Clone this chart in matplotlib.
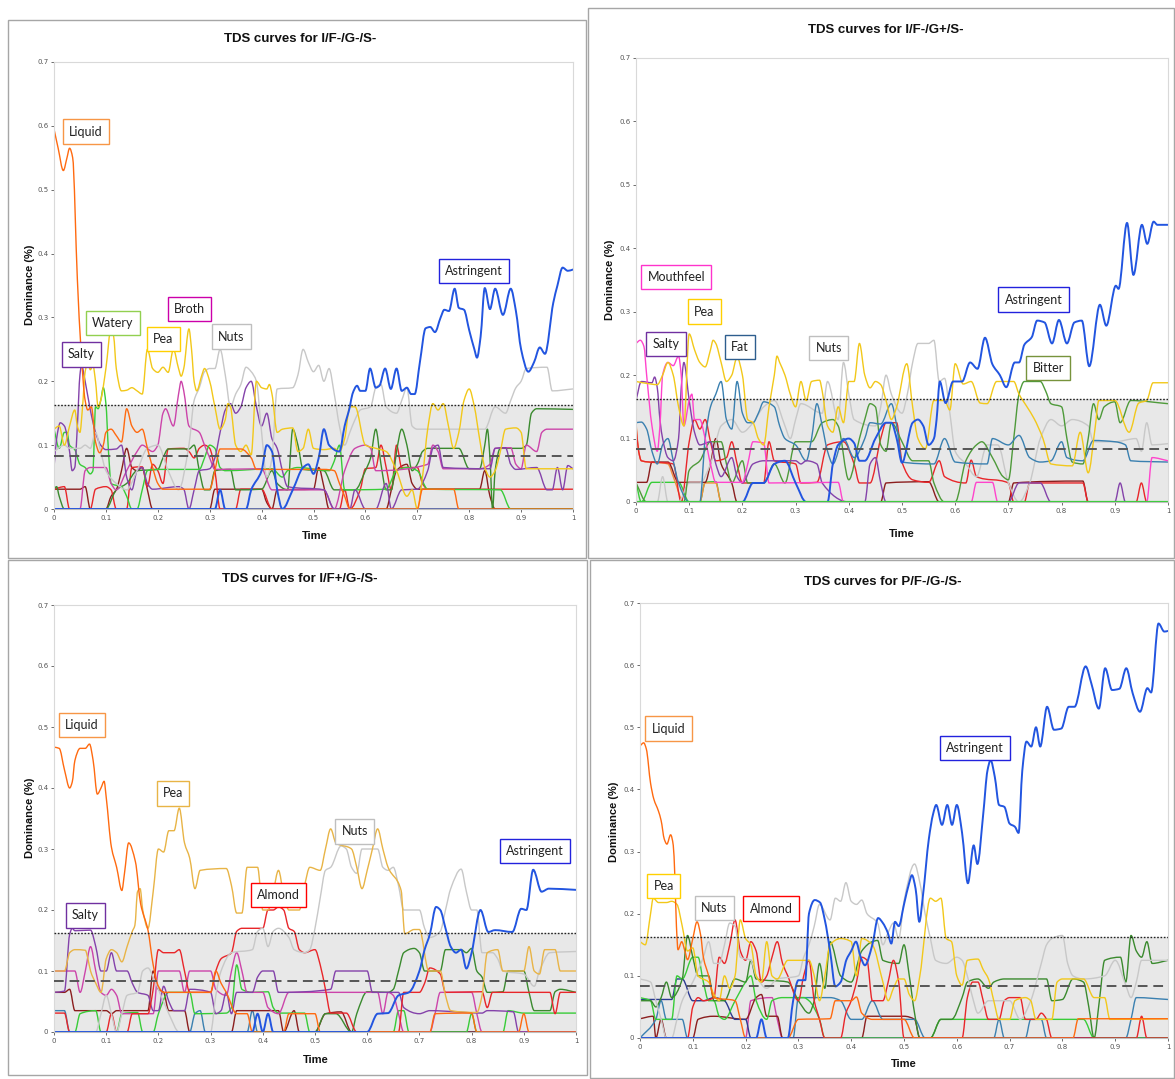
import matplotlib
matplotlib.use("Agg")
import numpy as np
import matplotlib.pyplot as plt
from matplotlib.patches import Rectangle, PathPatch
from matplotlib.path import Path

W, H = 1175, 1079

# ---------------- colours ----------------
C_LIQUID = "#FF6A10"
C_PEA = "#F2C81A"
C_PEA_BL = "#E8B446"
C_NUTS = "#C8C8C8"
C_SALTY = "#8442AA"
C_BROTH = "#CC44AA"
C_GREEN = "#38CC38"
C_DKGREEN = "#3A8A2E"
C_RED = "#E8262A"
C_DKRED = "#8B1E1E"
C_ASTR = "#2255E0"
C_TEAL = "#3A80B0"
C_PINK = "#FF44CC"
C_NAVY = "#2B3990"
C_BITTER = "#4E9A3A"

# ---------------- data: I/F-/G-/S- ----------------
tl_liquid = [(0, .595), (.008, .565), (.018, .53), (.025, .55), (.03, .565), (.036, .55), (.045, .36), (.052, .25),
             (.06, .17), (.065, .155), (.072, .16), (.08, .105), (.088, .088), (.095, .1), (.1, .12), (.11, .125),
             (.12, .115), (.13, .105), (.14, .157), (.15, .13), (.16, .12), (.17, .125), (.18, .095), (.19, .065),
             (.2, .04), (.21, .031), (.3, .031), (.31, .06), (.32, .094), (.36, .094), (.38, .08), (.39, .062),
             (.52, .062), (.54, .06), (.55, .04), (.56, .02), (.57, 0), (.7, 0), (.71, .031), (.77, .031), (.78, 0), (1, 0)]
tl_pea = [(0, .125), (.01, .13), (.02, .1), (.03, .13), (.04, .155), (.045, .13), (.05, .12), (.055, .16), (.06, .215),
          (.065, .228), (.07, .218), (.075, .225), (.08, .2), (.085, .16), (.09, .17), (.1, .22), (.11, .283),
          (.115, .27), (.12, .22), (.13, .185), (.14, .186), (.15, .19), (.16, .185), (.17, .18), (.18, .25),
          (.19, .22), (.2, .214), (.21, .222), (.22, .214), (.23, .25), (.24, .22), (.245, .208), (.25, .22),
          (.26, .282), (.265, .25), (.27, .2), (.275, .185), (.285, .21), (.29, .22), (.3, .2), (.31, .16),
          (.32, .125), (.33, .14), (.335, .165), (.34, .16), (.35, .1), (.36, .09), (.37, .1), (.38, .085),
          (.39, .2), (.4, .19), (.41, .188), (.415, .195), (.42, .18), (.43, .12), (.44, .125), (.46, .127),
          (.47, .09), (.48, .095), (.49, .125), (.5, .095), (.52, .093), (.54, .095), (.55, .09), (.56, .11),
          (.57, .16), (.58, .16), (.6, .1), (.62, .095), (.64, .09), (.66, .06), (.68, .02), (.69, .03), (.7, 0),
          (.71, .05), (.72, .125), (.73, .165), (.74, .155), (.75, .165), (.76, .13), (.77, .095), (.78, .12),
          (.79, .17), (.8, .188), (.81, .16), (.82, .11), (.83, .065), (.84, .05), (.85, .06), (.86, .09),
          (.87, .125), (.89, .127), (.9, .12), (.91, .063), (1, .063)]
tl_nuts = [(0, .09), (.02, .1), (.03, .095), (.05, .095), (.06, .1), (.07, .095), (.08, .12), (.09, .09), (.1, .06),
           (.12, .04), (.14, .03), (.16, .06), (.18, .095), (.2, .1), (.22, .06), (.24, .03), (.26, .1), (.27, .17),
           (.28, .19), (.29, .215), (.3, .22), (.31, .22), (.32, .25), (.33, .21), (.34, .16), (.35, .18),
           (.36, .195), (.37, .222), (.38, .215), (.39, .2), (.4, .12), (.41, .05), (.42, .08), (.43, .188),
           (.46, .19), (.47, .21), (.48, .25), (.49, .23), (.5, .215), (.51, .225), (.52, .2), (.53, .22),
           (.54, .18), (.55, .13), (.56, .1), (.57, .12), (.58, .14), (.59, .155), (.61, .16), (.62, .19),
           (.63, .195), (.64, .16), (.66, .15), (.67, .17), (.68, .19), (.69, .13), (.7, .125), (.83, .125),
           (.85, .16), (.87, .15), (.88, .17), (.89, .19), (.9, .2), (.91, .22), (.95, .222), (.96, .185), (1, .188)]
tl_astr = [(0, 0), (.31, 0), (.32, .03), (.33, 0), (.37, 0), (.38, .03), (.4, .06), (.41, .1), (.42, .09), (.43, .03),
           (.44, 0), (.46, .03), (.48, .065), (.49, .07), (.5, .055), (.51, .08), (.52, .125), (.53, .1),
           (.55, .09), (.56, .13), (.57, .16), (.575, .18), (.584, .193), (.59, .185), (.6, .185), (.609, .22),
           (.62, .19), (.627, .193), (.638, .22), (.649, .188), (.66, .22), (.67, .185), (.68, .19), (.688, .18),
           (.695, .18), (.705, .23), (.716, .283), (.725, .285), (.734, .277), (.745, .3), (.752, .312),
           (.761, .31), (.772, .345), (.78, .315), (.79, .312), (.8, .28), (.81, .25), (.815, .237), (.822, .27),
           (.83, .346), (.84, .313), (.85, .345), (.865, .304), (.88, .345), (.89, .31), (.9, .25), (.914, .215),
           (.925, .23), (.936, .253), (.946, .243), (.962, .323), (.97, .35), (.98, .378), (.99, .373), (1, .375)]
tl_salty = [(0, .065), (.005, .11), (.012, .135), (.02, .13), (.03, .09), (.035, .06), (.04, .065), (.045, .13),
            (.05, .21), (.053, .225), (.06, .2), (.07, .155), (.08, .12), (.09, .1), (.1, .093), (.12, .094),
            (.13, .1), (.14, .05), (.15, .03), (.16, .06), (.17, .065), (.18, .04), (.19, .031), (.24, .035),
            (.25, .031), (.26, 0), (.27, .03), (.28, .06), (.3, .063), (.31, .08), (.32, .12), (.33, .155),
            (.34, .165), (.35, .15), (.36, .16), (.37, .19), (.38, .2), (.39, .16), (.4, .13), (.41, .15),
            (.42, .11), (.43, .095), (.44, .06), (.45, .035), (.52, .03), (.54, 0), (.57, 0), (.58, .03), (.6, 0),
            (.62, 0), (.64, .04), (.65, 0), (.67, .03), (.7, .031), (.72, .06), (.73, .095), (.74, .1), (.75, .065),
            (.84, .063), (.85, .095), (.87, .096), (.88, .07), (.89, .062), (.93, .065), (.95, .03), (.96, .03),
            (.97, .065), (.98, .03), (.99, .068), (1, .063)]
tl_broth = [(0, 0), (.05, 0), (.06, .06), (.07, .065), (.1, .065), (.11, .04), (.12, .03), (.14, .06), (.16, .09),
            (.17, .1), (.19, .09), (.2, .1), (.21, .15), (.215, .157), (.23, .13), (.24, .18), (.245, .2),
            (.25, .185), (.26, .13), (.28, .12), (.29, .1), (.3, .08), (.31, .062), (.4, .063), (.42, .03),
            (.52, .03), (.54, 0), (.56, .06), (.58, .095), (.6, .1), (.61, .095), (.62, .06), (.72, .07),
            (.73, .1), (.74, .09), (.75, .063), (.82, .063), (.84, .07), (.85, .095), (.88, .096), (.89, .07),
            (.9, .063), (.91, .1), (.93, .09), (.94, .12), (.95, .125), (1, .125)]
tl_watery = [(0, .125), (.01, .095), (.02, .12), (.025, .12), (.03, .1), (.04, .093), (.05, .07), (.06, .065),
             (.07, .055), (.075, .06), (.08, .16), (.085, .157), (.09, .17), (.095, .19), (.1, .165), (.105, .09),
             (.11, .04), (.13, .035), (.14, .02), (.15, 0), (.16, 0), (.17, .03), (.18, .06), (.19, .062),
             (.28, .062), (.29, .08), (.3, .1), (.31, .095), (.32, .065), (.33, .06), (.42, .063), (.44, .05),
             (.45, .06), (.47, .065), (.53, .06), (.54, .075), (.55, .1), (.56, .03), (.64, .031), (.66, .06),
             (.68, .065), (.7, .06), (.72, .031), (.86, .03), (.88, 0), (1, 0)]
tl_dkgreen = [(0, .031), (.005, .035), (.01, .02), (.02, 0), (.1, 0), (.12, .03), (.14, .04), (.16, .06),
              (.2, .062), (.21, .08), (.22, .094), (.26, .094), (.27, .1), (.28, .06), (.29, .03), (.3, .03),
              (.31, .06), (.34, .062), (.35, .03), (.4, .031), (.42, .06), (.43, .04), (.45, .03), (.46, .125),
              (.47, .1), (.48, .062), (.52, .06), (.54, .03), (.58, .03), (.6, .06), (.61, .08), (.62, .125),
              (.63, .07), (.64, .03), (.65, .03), (.66, .09), (.67, .125), (.68, .1), (.69, .06), (.7, .07),
              (.71, .09), (.72, .095), (.78, .095), (.8, .063), (.82, .063), (.83, .1), (.835, .125), (.84, .08),
              (.845, 0), (.85, .06), (.86, .095), (.9, .095), (.91, .1), (.92, .15), (.93, .157), (1, .156)]
tl_red = [(0, .031), (.02, .035), (.03, 0), (.07, 0), (.08, .031), (.1, .035), (.11, .03), (.12, 0), (.14, 0),
          (.15, .065), (.17, .066), (.18, .035), (.19, .07), (.2, .06), (.21, .04), (.22, .094), (.25, .095),
          (.26, .09), (.27, .08), (.28, .095), (.29, .1), (.3, .095), (.31, .06), (.32, 0), (.35, 0), (.36, .031),
          (.4, .031), (.42, 0), (.55, 0), (.56, .03), (.57, 0), (.59, .03), (.6, .063), (.62, .065), (.63, .1),
          (.64, .065), (.65, .03), (.66, .1), (.67, .065), (.7, .065), (.71, .04), (.72, .031), (1, .031)]
tl_dkred = [(0, .031), (.05, .031), (.06, .035), (.07, 0), (.1, 0), (.11, .02), (.12, .03), (.13, .06), (.14, .095),
            (.15, .065), (.16, .06), (.17, .065), (.18, .03), (.19, 0), (.3, 0), (.31, .031), (.4, .031),
            (.41, .01), (.42, 0), (.43, .03), (.5, .031), (.51, .065), (.52, .035), (.53, 0), (.64, 0), (.65, .03),
            (.66, .06), (.68, .07), (.69, .04), (.7, .031), (.82, .031), (.83, .06), (.84, .02), (.85, 0), (1, 0)]
tl_navy = [(0, 0), (1, 0)]

# ---------------- data: I/F-/G+/S- ----------------
tr_astr = [(0, 0), (.2, 0), (.22, .03), (.24, .03), (.26, .06), (.28, .065), (.3, .03), (.32, 0), (.36, 0),
           (.37, .06), (.38, .09), (.4, .1), (.41, .093), (.42, .065), (.43, .065), (.45, .1), (.47, .125),
           (.48, .125), (.49, .1), (.5, .062), (.52, .125), (.53, .13), (.54, .12), (.55, .09), (.56, .1),
           (.565, .13), (.571, .19), (.582, .156), (.596, .19), (.613, .19), (.628, .22), (.642, .21), (.656, .259),
           (.67, .217), (.684, .2), (.696, .181), (.712, .22), (.72, .22), (.73, .248), (.744, .26), (.754, .286),
           (.768, .283), (.782, .25), (.795, .287), (.81, .25), (.824, .283), (.838, .286), (.852, .214),
           (.872, .311), (.884, .278), (.902, .341), (.907, .336), (.923, .44), (.935, .358), (.951, .437),
           (.961, .407), (.973, .442), (.98, .437), (1, .437)]
tr_pea = [(0, .19), (.02, .187), (.04, .185), (.05, .2), (.06, .22), (.07, .2), (.08, .15), (.09, .12), (.1, .265),
          (.11, .24), (.12, .22), (.13, .213), (.14, .24), (.145, .255), (.15, .25), (.16, .22), (.17, .19),
          (.18, .2), (.19, .228), (.2, .2), (.21, .13), (.22, .125), (.23, .1), (.24, .09), (.25, .15), (.26, .2),
          (.265, .23), (.27, .22), (.28, .2), (.29, .17), (.3, .15), (.31, .19), (.32, .16), (.33, .19),
          (.345, .192), (.35, .175), (.36, .12), (.37, .11), (.38, .15), (.39, .125), (.4, .19), (.41, .19),
          (.42, .25), (.43, .2), (.44, .18), (.45, .19), (.46, .185), (.47, .16), (.48, .13), (.49, .15),
          (.509, .218), (.52, .15), (.53, .1), (.544, .084), (.56, .16), (.58, .16), (.59, .145), (.6, .218),
          (.615, .186), (.63, .19), (.647, .156), (.66, .155), (.678, .19), (.697, .19), (.71, .19), (.72, .17),
          (.735, .15), (.748, .132), (.765, .1), (.78, .06), (.82, .057), (.835, .11), (.85, .046), (.863, .117),
          (.87, .16), (.9, .16), (.927, .11), (.945, .156), (.96, .16), (.972, .188), (1, .188)]
tr_mouth = [(0, .25), (.008, .255), (.015, .245), (.02, .2), (.03, .12), (.04, .08), (.045, .12), (.05, .2),
            (.06, .22), (.07, .215), (.08, .23), (.085, .2), (.09, .12), (.1, .16), (.105, .17), (.11, .13),
            (.12, .13), (.13, .1), (.14, .06), (.15, .031), (.2, .031), (.21, .06), (.22, .095), (.24, .093),
            (.25, .03), (.38, .031), (.39, 0), (.63, 0), (.64, .031), (.67, .031), (.68, 0), (.96, 0), (.97, .07),
            (1, .065)]
tr_salty = [(0, .16), (.01, .19), (.03, .188), (.035, .197), (.04, .18), (.045, .13), (.05, .1), (.06, .07),
            (.07, .065), (.08, .1), (.085, .18), (.09, .22), (.1, .16), (.11, .11), (.12, .09), (.14, .095),
            (.15, .06), (.16, .04), (.18, .07), (.19, .04), (.2, .03), (.22, .06), (.24, .065), (.3, .065),
            (.31, .06), (.32, .065), (.34, .06), (.35, .03), (.4, 0), (.43, 0), (.44, .06), (.45, .07), (.46, .03),
            (.47, 0), (.7, 0), (.72, .03), (.76, .03), (.78, 0), (.9, 0), (.91, .03), (.92, 0), (1, 0)]
tr_fat = [(0, .125), (.01, .126), (.02, .115), (.03, .08), (.04, .06), (.05, .09), (.06, .1), (.07, .065),
          (.08, .03), (.1, 0), (.12, 0), (.13, .1), (.14, .15), (.15, .17), (.16, .19), (.17, .13), (.18, .115),
          (.19, .19), (.2, .14), (.21, .125), (.22, .125), (.23, .14), (.24, .158), (.26, .15), (.27, .12),
          (.28, .1), (.3, .09), (.32, .065), (.33, .1), (.34, .155), (.35, .12), (.36, .08), (.37, .06),
          (.39, .1), (.41, .07), (.43, .1), (.44, .125), (.46, .123), (.48, .155), (.49, .12), (.5, .063),
          (.56, .06), (.58, .1), (.6, .063), (.66, .06), (.67, .1), (.7, .09), (.72, .105), (.74, .07),
          (.76, .063), (.78, .065), (.8, .095), (.81, .07), (.84, .065), (.86, .097), (.9, .095), (.92, .09),
          (.93, .065), (1, .063)]
tr_nuts = [(0, 0), (.04, 0), (.05, .04), (.06, 0), (.08, 0), (.1, .03), (.12, .03), (.14, .06), (.16, .12),
           (.18, .13), (.2, .11), (.22, .125), (.24, .15), (.26, .16), (.28, .12), (.29, .1), (.3, .13),
           (.31, .155), (.35, .14), (.36, .19), (.38, .13), (.39, .22), (.4, .17), (.41, .13), (.45, .12),
           (.46, .15), (.47, .2), (.48, .17), (.5, .14), (.51, .17), (.52, .22), (.53, .25), (.55, .25),
           (.56, .255), (.57, .19), (.58, .195), (.59, .14), (.6, .08), (.62, .06), (.64, .04), (.66, .09),
           (.68, .09), (.7, .03), (.72, 0), (.74, .03), (.76, .1), (.78, .13), (.8, .12), (.82, .13), (.85, .12),
           (.86, .095), (.9, .095), (.94, .1), (.95, .08), (.96, .125), (.97, .09), (1, .092)]
tr_bitter = [(0, .03), (.02, 0), (.09, 0), (.1, .05), (.12, .065), (.14, .095), (.16, .095), (.17, .06), (.18, .03),
             (.2, .065), (.21, .03), (.24, .03), (.26, .06), (.28, .03), (.3, .095), (.33, .095), (.35, .125),
             (.37, .13), (.38, .12), (.4, .035), (.42, .1), (.43, .13), (.44, .155), (.45, .15), (.46, .09),
             (.47, .08), (.48, .125), (.5, .095), (.52, .065), (.55, .065), (.56, .03), (.58, 0), (.6, 0),
             (.62, .065), (.64, .09), (.65, .095), (.67, .07), (.69, .04), (.7, .035), (.71, .1), (.72, .17),
             (.73, .19), (.76, .19), (.77, .175), (.78, .155), (.8, .15), (.81, .1), (.82, .063), (.84, .06),
             (.85, .1), (.86, .155), (.87, .13), (.88, .15), (.9, .158), (.91, .125), (.93, .16), (1, .155)]
tr_red = [(0, .12), (.005, .08), (.01, .065), (.07, .06), (.085, 0), (.1, .095), (.11, .13), (.12, .115),
          (.13, .13), (.14, .095), (.15, .065), (.17, .07), (.18, .095), (.19, .06), (.2, .03), (.24, .03),
          (.25, .095), (.26, .065), (.3, .06), (.31, .03), (.34, .031), (.36, .09), (.39, .095), (.41, .06),
          (.42, .03), (.44, .03), (.46, .1), (.47, .125), (.49, .125), (.5, .063), (.52, .035), (.55, .031),
          (.57, .065), (.58, .04), (.62, .03), (.63, .066), (.64, .04), (.7, .03), (.71, 0), (.73, 0), (.74, .03),
          (.84, .03), (.85, 0), (.94, 0), (.95, .03), (.96, 0), (1, 0)]
tr_dkred = [(0, .031), (.02, .031), (.03, .063), (.06, .063), (.08, .031), (.13, .031), (.14, .06), (.15, .1),
            (.16, .06), (.18, .03), (.19, 0), (.46, 0), (.47, .03), (.55, .032), (.57, 0), (.7, 0), (.71, .03),
            (.84, .033), (.85, 0), (1, 0)]
tr_orange = [(0, .125), (.005, .08), (.01, .065), (.06, .06), (.07, .04), (.09, 0), (.12, 0), (.13, .03),
             (.15, .03), (.16, 0), (1, 0)]
tr_green = [(0, .031), (.01, 0), (.03, .031), (.08, .031), (.1, 0), (.12, 0), (.13, .031), (.15, .032), (.16, 0),
            (1, 0)]

# ---------------- data: I/F+/G-/S- ----------------
bl_liquid = [(0, .467), (.01, .465), (.02, .43), (.03, .4), (.035, .41), (.04, .445), (.05, .465), (.06, .465),
             (.068, .472), (.075, .445), (.083, .39), (.09, .4), (.096, .411), (.1, .385), (.11, .303), (.12, .27),
             (.13, .232), (.135, .26), (.143, .31), (.156, .279), (.166, .21), (.18, .167), (.19, .11), (.2, .075),
             (.21, .065), (.3, .065), (.31, .1), (.32, .08), (.33, .065), (.35, .03), (.37, .03), (.38, 0),
             (.44, 0), (.45, .03), (.5, .03), (.51, 0), (.72, 0), (.73, .03), (.8, .031), (.81, 0), (.89, 0),
             (.9, .03), (.91, 0), (1, 0)]
bl_pea = [(0, .1), (.02, .1), (.03, .13), (.04, .135), (.06, .134), (.065, .12), (.07, .1), (.08, .08), (.09, .065),
          (.1, .12), (.11, .135), (.12, .13), (.13, .115), (.14, .14), (.15, .165), (.155, .175), (.16, .23),
          (.165, .235), (.17, .2), (.18, .17), (.19, .23), (.2, .3), (.21, .295), (.22, .33), (.23, .33),
          (.24, .367), (.25, .31), (.26, .285), (.27, .235), (.28, .265), (.33, .268), (.34, .24), (.35, .195),
          (.36, .195), (.37, .27), (.39, .27), (.4, .2), (.41, .2), (.42, .23), (.43, .265), (.44, .225),
          (.45, .2), (.47, .2), (.48, .24), (.49, .27), (.51, .265), (.52, .3), (.53, .333), (.54, .31),
          (.57, .3), (.58, .27), (.59, .235), (.6, .265), (.61, .3), (.62, .333), (.63, .3), (.64, .27),
          (.665, .232), (.672, .161), (.69, .168), (.7, .168), (.718, .1), (.74, .1), (.75, .06), (.76, .035),
          (.81, .032), (.82, .06), (.83, .13), (.85, .135), (.86, .1), (.9, .1), (.91, .14), (.92, .1),
          (.93, .095), (.94, .135), (.96, .135), (.97, .1), (1, .1)]
bl_nuts = [(0, 0), (.08, 0), (.09, .03), (.1, .06), (.11, .03), (.12, 0), (.13, .03), (.14, .06), (.16, .065),
           (.17, .1), (.18, .105), (.19, .09), (.2, .07), (.22, .03), (.24, 0), (.3, 0), (.31, .06), (.32, .1),
           (.34, .13), (.38, .135), (.39, .165), (.4, .17), (.41, .14), (.42, .165), (.43, .17), (.45, .155),
           (.46, .135), (.48, .13), (.49, .135), (.5, .17), (.51, .22), (.52, .265), (.53, .27), (.55, .305),
           (.56, .3), (.57, .27), (.58, .26), (.59, .3), (.62, .3), (.63, .27), (.64, .265), (.65, .27),
           (.66, .24), (.67, .2), (.7, .2), (.71, .17), (.72, .155), (.74, .165), (.75, .2), (.76, .235),
           (.78, .267), (.79, .23), (.8, .2), (.81, .2), (.82, .13), (.84, .13), (.85, .12), (.86, .1),
           (.9, .095), (.92, .075), (.93, .1), (.95, .13), (1, .132)]
bl_astr = [(0, 0), (.38, 0), (.39, .03), (.4, 0), (.41, .03), (.42, 0), (.6, 0), (.62, .03), (.64, .031),
           (.66, .06), (.68, .065), (.7, .1), (.71, .135), (.72, .16), (.732, .205), (.74, .2), (.75, .17),
           (.76, .14), (.77, .13), (.78, .135), (.79, .104), (.8, .13), (.817, .2), (.832, .164), (.845, .167),
           (.878, .164), (.895, .202), (.905, .2), (.918, .266), (.934, .23), (.948, .235), (1, .233)]
bl_almond = [(0, .031), (.02, .031), (.03, 0), (.1, 0), (.11, .03), (.12, 0), (.14, 0), (.15, .03), (.18, .03),
             (.19, .07), (.2, .135), (.21, .13), (.23, .13), (.24, .135), (.25, .1), (.26, .065), (.3, .065),
             (.31, .1), (.32, .12), (.34, .13), (.35, .165), (.36, .17), (.4, .17), (.41, .2), (.42, .2),
             (.43, .205), (.44, .2), (.45, .17), (.46, .165), (.47, .135), (.48, .13), (.5, .135), (.51, .11),
             (.52, .07), (.53, .031), (.56, .031), (.58, 0), (.66, 0), (.67, .065), (.7, .065), (.71, .08),
             (.72, .105), (.74, .095), (.75, .065), (.82, .066), (.83, .04), (.84, .065), (.95, .065), (.96, .03),
             (.97, .065), (1, .065)]
bl_salty = [(0, .065), (.02, .067), (.03, .16), (.035, .17), (.04, .166), (.07, .167), (.08, .14), (.09, .1),
            (.1, .1), (.11, .13), (.12, .1), (.14, .1), (.15, .08), (.16, .065), (.18, .06), (.19, .035),
            (.2, .035), (.21, .075), (.22, .05), (.23, .035), (.25, .035), (.26, .07), (.3, .065), (.31, .03),
            (.32, .035), (.33, .065), (.34, .03), (.35, .065), (.38, .065), (.39, .09), (.4, .1), (.42, .1),
            (.43, .065), (.53, .07), (.54, .1), (.6, .1), (.61, .065), (.66, .065), (.67, .04), (.7, .03),
            (.72, .035), (.82, .031), (.83, .035), (.88, .033), (.89, 0), (1, 0)]
bl_magenta = [(0, .1), (.04, .1), (.05, .065), (.06, .1), (.07, .14), (.08, .1), (.09, .065), (.1, .06), (.11, .07),
              (.12, .06), (.13, .03), (.19, .03), (.2, .1), (.24, .1), (.25, .065), (.26, .1), (.3, .1), (.31, .07),
              (.33, .06), (.34, .1), (.35, .13), (.36, .1), (.37, .065), (.4, .065), (.41, .04), (.43, .03),
              (.45, .065), (.62, .065), (.63, .03), (.64, .065), (.65, .06), (.66, .03), (.67, 0), (.72, 0),
              (.73, .03), (.74, .065), (.8, .065), (.81, .03), (.82, 0), (1, 0)]
bl_green = [(0, 0), (.04, 0), (.05, .03), (.08, .035), (.09, 0), (.12, 0), (.13, .03), (.16, .032), (.17, 0),
            (.19, 0), (.2, .03), (.22, .065), (.26, .065), (.27, .03), (.33, .031), (.34, .04), (.35, .11),
            (.36, .07), (.38, .065), (.41, .066), (.42, .04), (.43, .031), (.48, .031), (.49, 0), (.65, 0),
            (.66, .035), (.67, .035), (.68, 0), (.79, 0), (.8, .03), (.81, 0), (.86, 0), (.87, .035), (.9, .031),
            (1, .031)]
bl_dkgreen = [(0, 0), (.5, 0), (.52, .03), (.54, .03), (.57, 0), (.58, .03), (.6, .066), (.64, .065), (.65, .07),
              (.66, .1), (.67, .13), (.69, .137), (.7, .13), (.71, .1), (.74, .1), (.75, .135), (.78, .135),
              (.79, .13), (.8, .137), (.81, .1), (.82, .09), (.83, .065), (.86, .066), (.87, .1), (.9, .1),
              (.91, .065), (.92, .035), (.95, .035), (.96, .066), (.97, .07), (1, .065)]
bl_dkred = [(0, .065), (.02, .065), (.03, .07), (.04, .035), (.1, .035), (.11, .03), (.12, .035), (.18, .035),
            (.19, .1), (.2, .07), (.21, .065), (.22, .035), (.25, .035), (.26, 0), (.34, 0), (.35, .035),
            (.43, .035), (.44, 0), (.46, .035), (.47, 0), (.5, 0), (.52, .03), (.55, .033), (.57, 0), (1, 0)]
bl_teal = [(0, .035), (.02, .035), (.03, 0), (.26, 0), (.27, .03), (.28, .035), (.29, 0), (.37, 0), (.38, .035),
           (.39, 0), (1, 0)]
bl_navy = [(0, 0), (1, 0)]

# ---------------- data: P/F-/G-/S- ----------------
br_liquid = [(0, .47), (.007, .475), (.012, .465), (.02, .41), (.026, .385), (.035, .365), (.04, .35), (.046, .32),
             (.051, .312), (.058, .327), (.063, .31), (.066, .26), (.069, .18), (.072, .142), (.079, .155),
             (.085, .14), (.09, .126), (.1, .16), (.108, .187), (.115, .165), (.12, .13), (.13, .1), (.14, .065),
             (.18, .06), (.19, .03), (.2, 0), (.28, 0), (.3, .03), (.36, .031), (.37, .06), (.4, .06), (.41, .066),
             (.42, .04), (.44, .03), (.5, .03), (.52, 0), (.82, 0), (.83, .031), (1, .031)]
br_astr = [(0, 0), (.22, 0), (.23, .03), (.24, 0), (.28, 0), (.29, .06), (.3, .093), (.313, .093), (.32, .2),
           (.331, .222), (.341, .218), (.35, .19), (.36, .14), (.37, .083), (.38, .09), (.391, .126), (.4, .14),
           (.409, .155), (.418, .13), (.426, .117), (.44, .15), (.451, .193), (.46, .185), (.469, .17),
           (.476, .152), (.483, .187), (.49, .18), (.5, .215), (.51, .25), (.515, .262), (.522, .24),
           (.529, .187), (.536, .23), (.547, .32), (.555, .36), (.561, .375), (.572, .343), (.582, .375),
           (.591, .343), (.6, .375), (.61, .33), (.621, .249), (.632, .31), (.639, .28), (.65, .36), (.658, .43),
           (.664, .447), (.672, .42), (.68, .375), (.69, .372), (.7, .345), (.71, .34), (.717, .33), (.724, .43),
           (.732, .477), (.741, .469), (.75, .5), (.758, .469), (.771, .533), (.784, .496), (.798, .498),
           (.812, .533), (.823, .533), (.844, .598), (.855, .57), (.869, .53), (.881, .595), (.894, .56),
           (.908, .562), (.921, .595), (.933, .555), (.947, .525), (.961, .563), (.968, .556), (.982, .667),
           (.993, .654), (1, .655)]
br_pea = [(0, .155), (.01, .15), (.02, .2), (.025, .225), (.035, .218), (.05, .218), (.06, .22), (.07, .215),
          (.08, .18), (.09, .14), (.1, .145), (.11, .1), (.13, .09), (.14, .07), (.15, .06), (.16, .1), (.17, .08),
          (.18, .1), (.19, .19), (.2, .16), (.21, .15), (.22, .1), (.23, .09), (.24, .155), (.25, .1),
          (.26, .095), (.28, .125), (.32, .125), (.33, .1), (.34, .06), (.35, .1), (.36, .15), (.38, .16),
          (.4, .155), (.41, .1), (.42, .16), (.44, .15), (.46, .09), (.47, .06), (.48, .08), (.49, .095),
          (.5, .095), (.51, .07), (.52, .06), (.53, .1), (.55, .225), (.56, .22), (.57, .225), (.58, .16),
          (.59, .155), (.6, .1), (.61, .085), (.62, .125), (.64, .127), (.65, .11), (.66, .095), (.67, .06),
          (.68, .03), (.7, .03), (.71, .06), (.73, .065), (.74, .06), (.75, .03), (.78, .03), (.79, .09),
          (.8, .095), (.84, .095), (.86, .065), (.88, .065), (.89, .03), (1, .031)]
br_nuts = [(0, .095), (.02, .09), (.03, .06), (.04, .03), (.05, 0), (.06, 0), (.07, .03), (.08, .06), (.1, .09),
           (.12, .13), (.13, .155), (.14, .12), (.15, .12), (.16, .15), (.17, .185), (.18, .18), (.19, .13),
           (.21, .125), (.22, .1), (.24, .08), (.26, .095), (.3, .1), (.31, .13), (.32, .15), (.33, .18),
           (.34, .215), (.36, .19), (.37, .225), (.38, .22), (.39, .25), (.4, .22), (.41, .215), (.42, .222),
           (.43, .2), (.45, .185), (.46, .15), (.47, .17), (.48, .185), (.49, .16), (.5, .22), (.52, .28),
           (.53, .25), (.54, .2), (.55, .16), (.56, .125), (.58, .12), (.6, .13), (.61, .125), (.62, .1),
           (.63, .065), (.64, .04), (.66, .06), (.7, .06), (.72, .03), (.74, .06), (.76, .12), (.77, .15),
           (.78, .16), (.8, .165), (.81, .12), (.82, .1), (.84, .095), (.88, .1), (.9, .125), (.92, .085),
           (.93, .065), (.94, .09), (.95, .125), (1, .125)]
br_almond = [(0, 0), (.09, 0), (.1, .05), (.11, .065), (.12, .06), (.14, .065), (.15, .13), (.16, .12),
             (.17, .15), (.18, .19), (.19, .14), (.2, .125), (.21, .155), (.22, .14), (.23, .09), (.24, .1),
             (.25, .13), (.26, .155), (.27, .12), (.28, .1), (.3, .06), (.31, .1), (.32, .125), (.33, .06),
             (.34, .03), (.35, 0), (.38, 0), (.39, .04), (.4, .06), (.41, .09), (.42, .13), (.43, .125), (.44, .06),
             (.46, .06), (.47, .09), (.48, .125), (.49, .09), (.5, 0), (.61, 0), (.62, .065), (.63, .09),
             (.64, .09), (.65, .06), (.66, .03), (.68, .03), (.69, .06), (.7, .065), (.72, .065), (.73, .03),
             (.75, .03), (.76, .04), (.77, .03), (.78, 0), (.94, 0), (.95, .035), (.96, 0), (1, 0)]
br_dkgreen = [(0, .06), (.02, .06), (.03, .05), (.04, .065), (.05, .09), (.06, .065), (.08, .095), (.09, .165),
              (.1, .13), (.11, .1), (.13, .1), (.14, .06), (.16, .06), (.18, .095), (.2, .09), (.21, .125),
              (.22, .095), (.28, .09), (.3, .06), (.32, .04), (.33, .06), (.34, .12), (.35, .08), (.36, .155),
              (.38, .1), (.4, .09), (.42, .14), (.44, .155), (.45, .157), (.46, .125), (.49, .12), (.5, .15),
              (.51, .1), (.52, .04), (.53, 0), (.55, 0), (.57, .03), (.59, .03), (.61, .065), (.62, .09),
              (.64, .095), (.66, .08), (.67, .09), (.69, .095), (.77, .095), (.78, .06), (.8, .062), (.82, .095),
              (.84, .09), (.85, .05), (.86, 0), (.87, .06), (.88, .125), (.91, .13), (.92, .09), (.93, .165),
              (.94, .14), (.95, .13), (.96, .155), (.97, .12), (1, .125)]
br_green = [(0, .065), (.02, .06), (.03, .03), (.06, .03), (.07, .1), (.08, .095), (.1, .13), (.11, .13),
            (.12, .09), (.13, .06), (.14, .06), (.15, .035), (.16, .03), (.18, .06), (.2, .09), (.21, .1),
            (.22, .06), (.24, .03), (.25, .06), (.27, .065), (.31, .065), (.32, .06), (.34, .03), (.35, 0),
            (.55, 0), (.57, .03), (.84, .03), (.86, 0), (1, 0)]
br_navy = [(0, .062), (.06, .062), (.07, .095), (.08, .095), (.1, .06), (.12, .06), (.14, .065), (.16, .06),
           (.18, .03), (.2, .03), (.21, 0), (1, 0)]
br_teal = [(0, 0), (.03, .03), (.04, .06), (.05, .03), (.08, .03), (.09, 0), (.29, 0), (.3, .065), (.36, .065),
           (.38, .06), (.4, .03), (.42, .03), (.44, .06), (.46, .03), (.52, .03), (.54, 0), (.67, 0), (.68, .03),
           (.69, 0), (.73, 0), (.74, .03), (.76, .03), (.77, 0), (.92, 0), (.93, .03), (.94, .065), (1, .062)]
br_magenta = [(0, 0), (.2, 0), (.21, .06), (.25, .065), (.26, .03), (.27, 0), (1, 0)]
br_dkred = [(0, .031), (.025, .035), (.03, 0), (.04, .03), (.05, 0), (.1, 0), (.11, .03), (.14, .035), (.2, .03),
            (.22, .065), (.23, .07), (.24, .035), (.26, .035), (.27, 0), (.42, 0), (.43, .035), (.5, .035),
            (.52, .03), (.53, 0), (1, 0)]

# ---------------- label boxes: (text, t, value, edge colour) ----------------
tl_labels = [("Liquid", .061, .591, "#F79646"), ("Watery", .113, .291, "#92D050"), ("Salty", .053, .242, "#7030A0"),
             ("Pea", .211, .266, "#FFD000"), ("Broth", .261, .313, "#CC00AA"), ("Nuts", .342, .270, "#BFBFBF"),
             ("Astringent", .809, .373, "#2222DD")]
tr_labels = [("Mouthfeel", .076, .355, "#FF33CC"), ("Pea", .128, .300, "#FFD000"), ("Salty", .056, .249, "#7030A0"),
             ("Fat", .195, .244, "#2E5E8E"), ("Nuts", .362, .243, "#BFBFBF"), ("Astringent", .747, .319, "#2222DD"),
             ("Bitter", .775, .211, "#77933C")]
bl_labels = [("Liquid", .053, .503, "#F79646"), ("Pea", .228, .391, "#E8B446"), ("Salty", .060, .191, "#7030A0"),
             ("Almond", .430, .225, "#FF0000"), ("Nuts", .576, .329, "#BFBFBF"), ("Astringent", .921, .297, "#2222DD")]
br_labels = [("Liquid", .054, .498, "#F79646"), ("Astringent", .634, .467, "#2222DD"), ("Pea", .045, .245, "#FFD000"),
             ("Nuts", .141, .209, "#BFBFBF"), ("Almond", .248, .208, "#FF0000")]

SIG_LEVEL = 0.163
CHANCE_LEVEL = 0.083


def smooth_line(ax, pts, color, lw):
    # smoothed line like the spreadsheet's "smoothed line" option (monotone cubic between the read points)
    x = np.array([p[0] for p in pts], dtype=float)
    y = np.array([p[1] for p in pts], dtype=float)
    h = np.diff(x)
    d = np.diff(y) / h
    m = np.zeros_like(y)
    m[0], m[-1] = d[0], d[-1]
    for k in range(1, len(x) - 1):
        if d[k - 1] * d[k] > 0:
            w1 = 2 * h[k] + h[k - 1]
            w2 = h[k] + 2 * h[k - 1]
            m[k] = (w1 + w2) / (w1 / d[k - 1] + w2 / d[k])
    verts = [(x[0], y[0])]
    codes = [Path.MOVETO]
    for k in range(len(h)):
        verts += [(x[k] + h[k] / 3, y[k] + m[k] * h[k] / 3),
                  (x[k + 1] - h[k] / 3, y[k + 1] - m[k + 1] * h[k] / 3),
                  (x[k + 1], y[k + 1])]
        codes += [Path.CURVE4] * 3
    ax.add_patch(PathPatch(Path(verts, codes), fill=False, ec=color, lw=lw, zorder=2,
                           capstyle="round", joinstyle="round"))


def draw_panel(ax, series, labels):
    ax.axhspan(0, SIG_LEVEL, color="#E8E8E8", lw=0, zorder=0)
    for pts, col, lw in series:
        smooth_line(ax, pts, col, lw)
    ax.axhline(SIG_LEVEL, color="#222222", lw=1.0, ls=(0, (1.2, 1.2)), zorder=3)
    ax.axhline(CHANCE_LEVEL, color="#555555", lw=1.4, ls=(0, (5, 3)), zorder=3)
    for text, t, v, ec in labels:
        ax.text(t, v, text, ha="center", va="center", fontsize=9, color="#222222",
                family=["Lato", "DejaVu Sans"], zorder=5,
                bbox=dict(boxstyle="square,pad=0.5", fc="white", ec=ec, lw=1.0))
    ax.set_xlim(0, 1)
    ax.set_ylim(0, 0.7)
    ax.set_xticks([0, .1, .2, .3, .4, .5, .6, .7, .8, .9, 1])
    ax.set_xticklabels(["0", "0.1", "0.2", "0.3", "0.4", "0.5", "0.6", "0.7", "0.8", "0.9", "1"])
    ax.set_yticks([0, .1, .2, .3, .4, .5, .6, .7])
    ax.set_yticklabels(["0", "0.1", "0.2", "0.3", "0.4", "0.5", "0.6", "0.7"])
    ax.tick_params(labelsize=5, colors="#555555", length=2, width=0.6, pad=2)
    for side in ["top", "right", "left"]:
        ax.spines[side].set_color("#D9D9D9")
        ax.spines[side].set_linewidth(0.8)
    ax.spines["bottom"].set_color("#BFBFBF")
    ax.spines["bottom"].set_linewidth(0.8)


fig = plt.figure(figsize=(W / 100, H / 100), dpi=100)


def fx(px):
    return px / W


def fy(py):
    return 1 - py / H


# panel frames (pixel boxes)
for x0, y0, x1, y1 in [(8, 20, 586, 558), (588, 8, 1174, 558), (8, 560, 587, 1075), (590, 560, 1174, 1078)]:
    fig.add_artist(Rectangle((fx(x0), fy(y1)), fx(x1 - x0), (y1 - y0) / H, transform=fig.transFigure,
                             fill=False, ec="#A6A6A6", lw=1.0))

ax_tl = fig.add_axes([fx(54), fy(509), fx(573 - 54), (509 - 62) / H])
ax_tr = fig.add_axes([fx(636), fy(502), fx(1168 - 636), (502 - 58) / H])
ax_bl = fig.add_axes([fx(54), fy(1032), fx(576 - 54), (1032 - 605) / H])
ax_br = fig.add_axes([fx(640), fy(1038), fx(1168 - 640), (1038 - 603) / H])

LW_BG = 1.0
LW_MAIN = 1.4

draw_panel(ax_tl, [
    (tl_navy, C_NAVY, LW_BG), (tl_dkred, C_DKRED, LW_BG), (tl_red, C_RED, LW_BG),
    (tl_dkgreen, C_DKGREEN, LW_BG), (tl_watery, C_GREEN, LW_BG), (tl_broth, C_BROTH, LW_BG),
    (tl_salty, C_SALTY, LW_BG), (tl_nuts, C_NUTS, LW_BG), (tl_pea, C_PEA, LW_BG),
    (tl_liquid, C_LIQUID, LW_BG), (tl_astr, C_ASTR, LW_MAIN)], tl_labels)

draw_panel(ax_tr, [
    (tr_green, C_GREEN, LW_BG), (tr_orange, "#F58D3C", LW_BG), (tr_dkred, C_DKRED, LW_BG),
    (tr_red, C_RED, LW_BG), (tr_nuts, C_NUTS, LW_BG), (tr_bitter, C_BITTER, LW_BG),
    (tr_fat, C_TEAL, LW_BG), (tr_salty, C_SALTY, LW_BG), (tr_mouth, C_PINK, LW_BG),
    (tr_pea, C_PEA, LW_BG), (tr_astr, C_ASTR, LW_MAIN)], tr_labels)
ax_tr.plot([0, 1], [0, 0], color=C_GREEN, lw=1.6, zorder=2)

draw_panel(ax_bl, [
    (bl_navy, C_NAVY, LW_BG), (bl_teal, C_TEAL, LW_BG), (bl_dkred, C_DKRED, LW_BG),
    (bl_green, C_GREEN, LW_BG), (bl_dkgreen, C_DKGREEN, LW_BG), (bl_magenta, C_BROTH, LW_BG),
    (bl_salty, C_SALTY, LW_BG), (bl_almond, C_RED, LW_BG), (bl_nuts, C_NUTS, LW_BG),
    (bl_pea, C_PEA_BL, LW_BG), (bl_liquid, C_LIQUID, LW_BG), (bl_astr, C_ASTR, LW_MAIN)], bl_labels)

draw_panel(ax_br, [
    (br_magenta, C_BROTH, LW_BG), (br_dkred, C_DKRED, LW_BG), (br_teal, C_TEAL, LW_BG),
    (br_navy, C_NAVY, LW_BG), (br_green, C_GREEN, LW_BG), (br_dkgreen, C_DKGREEN, LW_BG),
    (br_almond, C_RED, LW_BG), (br_nuts, C_NUTS, LW_BG), (br_pea, C_PEA, LW_BG),
    (br_liquid, C_LIQUID, LW_BG), (br_astr, C_ASTR, LW_MAIN)], br_labels)

# titles and axis labels, placed like the spreadsheet screenshots
titles = [("TDS curves for I/F-/G-/S-", 300, 39), ("TDS curves for I/F-/G+/S-", 886, 30),
          ("TDS curves for I/F+/G-/S-", 300, 579), ("TDS curves for P/F-/G-/S-", 883, 582)]
for text, px, py in titles:
    fig.text(fx(px), fy(py), text, ha="center", va="center", fontsize=9.5, fontweight="bold",
             family="Liberation Sans", color="#111111")

for px, py in [(315, 536), (902, 534), (316, 1060), (904, 1064)]:
    fig.text(fx(px), fy(py), "Time", ha="center", va="center", fontsize=8, fontweight="bold",
             family="Liberation Sans", color="#111111")

for px, py in [(30, 285), (610, 280), (30, 818), (614, 822)]:
    fig.text(fx(px), fy(py), "Dominance (%)", ha="center", va="center", rotation=90, fontsize=8,
             fontweight="bold", family="Liberation Sans", color="#111111")

fig.savefig("out.png", dpi=100)
